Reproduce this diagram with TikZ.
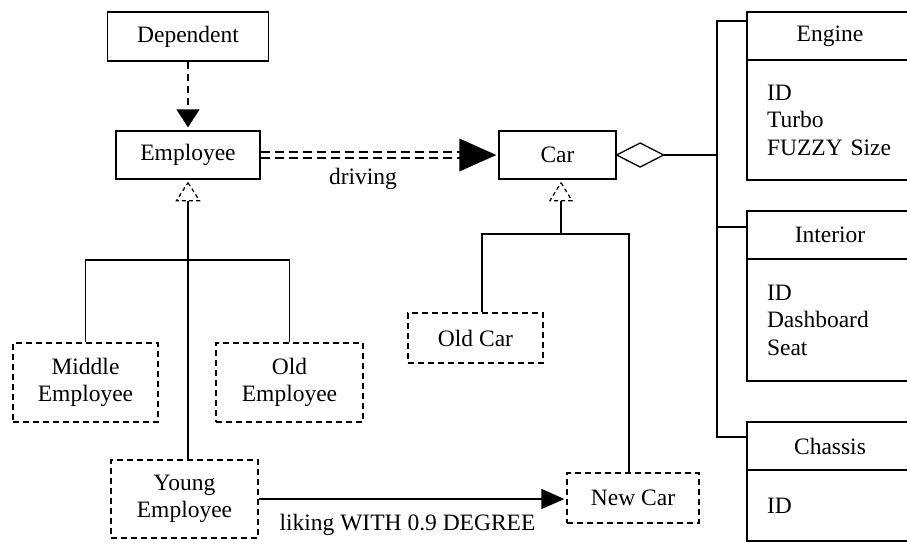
\documentclass[tikz,border=0pt]{standalone}
\usepackage{fontspec}
\setmainfont{Liberation Serif}
\usetikzlibrary{arrows.meta}
\begin{document}
\begin{tikzpicture}[x=1pt,y=-1pt, line width=1.3pt,
  every node/.style={font=\fontsize{23.5}{27.5}\selectfont},
  cls/.style={draw, rectangle, inner sep=0pt, line width=1.3pt, align=center},
  sub/.style={cls, dash pattern=on 6pt off 4pt},
  body/.style={draw, rectangle, inner xsep=20pt, inner ysep=0pt, text width=126pt, align=left, minimum width=166pt, line width=1.3pt},
  gentri/.style={dash pattern=on 4pt off 3pt, line width=1.2pt},
  drv/.style={dash pattern=on 9pt off 5pt, line width=1.6pt},
]
\useasboundingbox (0,0) rectangle (907,542);
\clip (0,0) rectangle (907,542);

% classes
\node[cls, minimum width=161pt, minimum height=49pt] (Dependent) at (188,36.5) {Dependent};
\node[cls, minimum width=144pt, minimum height=48pt] (Employee) at (188,155) {Employee};
\node[cls, minimum width=117pt, minimum height=48pt] (Car) at (557.5,155) {Car};
\node[sub, minimum width=145pt, minimum height=79pt] (Middle) at (85.5,382.5) {Middle\\Employee};
\node[sub, minimum width=147pt, minimum height=79pt] (Old) at (289.5,382.5) {Old\\Employee};
\node[sub, minimum width=147pt, minimum height=78pt] (Young) at (184.5,499) {Young\\Employee};
\node[sub, minimum width=135pt, minimum height=50pt] (OldCar) at (475.5,338) {Old Car};
\node[sub, minimum width=132pt, minimum height=50pt] (NewCar) at (633,498) {New Car};

% component classes
\node[cls, minimum width=166pt, minimum height=48pt] (EngineH) at (830,36) {Engine};
\node[body, minimum height=120pt] (EngineB) at (830,120) {ID\\Turbo\\FUZZY Size};
\node[cls, minimum width=166pt, minimum height=48pt] (InteriorH) at (830,235) {Interior};
\node[body, minimum height=122pt] (InteriorB) at (830,320) {ID\\Dashboard\\Seat};
\node[cls, minimum width=166pt, minimum height=48pt] (ChassisH) at (830,446) {Chassis};
\node[body, minimum height=71pt] (ChassisB) at (830,505.5) {ID};

% Dependent -> Employee
\draw[dash pattern=on 7pt off 5pt, -{Triangle[length=18pt,width=23pt]}, shorten >=3pt] (Dependent.south) -- (Employee.north);

% Employee generalization
\draw[gentri] (Employee.south) ++(0,3) -- ++(11.5,18) -- ++(-23,0) -- cycle;
\draw (Employee.south) ++(0,21) -- (Employee.south |- Young.north);
\coordinate (ebus) at (188,260);
\draw (Middle.north) |- (ebus) -| (Old.north);

% driving
\coordinate (drvEnd) at (462,155);
\draw[drv] (Employee.east |- 0,158) -- (drvEnd |- 0,158);
\draw[drv] (Employee.east |- 0,152) -- (drvEnd |- 0,152);
\fill (Car.west) ++(-2,0) -- ++(-37,-16.5) -- ++(0,33) -- cycle;
\node[anchor=base] (driving) at (363,184) {driving};

% Car generalization
\draw[gentri] ([xshift=3.5pt]Car.south) ++(0,3) -- ++(11,18) -- ++(-22,0) -- cycle;
\coordinate (cbus) at (561,234);
\draw ([xshift=3.5pt]Car.south) ++(0,21) -- (cbus);
\draw ([xshift=6.5pt]OldCar.north) |- (cbus) -| ([xshift=-4pt]NewCar.north);

% aggregation
\draw (Car.east) -- ++(23.5,-12) -- ++(23.5,12) -- ++(-23.5,12) -- cycle;
\coordinate (aggr) at (717,155);
\coordinate (trunkTop) at (717,21);
\coordinate (trunkBot) at (717,437);
\draw (Car.east) ++(47,0) -- (aggr);
\draw (EngineH.west |- trunkTop) -- (trunkTop) -- (trunkBot) -- (ChassisH.west |- trunkBot);
\draw (InteriorH.west |- 0,227) -- (717,227);

% liking
\draw[-{Triangle[length=23pt,width=20pt]}, shorten >=2pt] (Young.east) -- (NewCar.west |- Young.east);
\node[anchor=base] (liking) at (407.5,530) {liking WITH 0.9 DEGREE};
\end{tikzpicture}
\end{document}
